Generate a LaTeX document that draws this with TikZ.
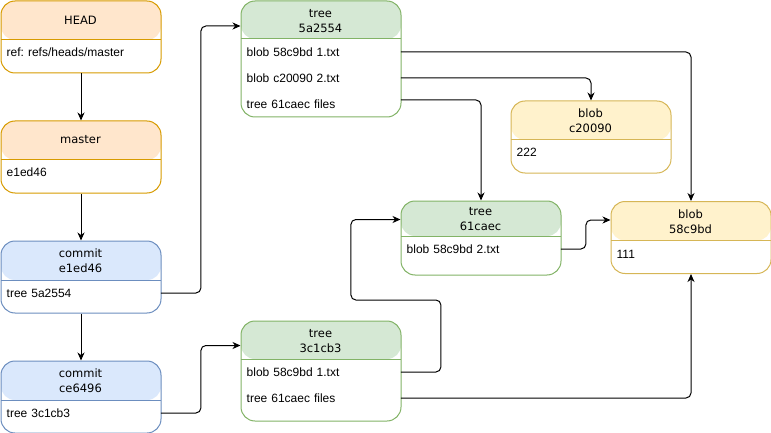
\documentclass[tikz,border=0pt]{standalone}
\usepackage{fontspec}
\setmainfont{Liberation Sans}
\newfontfamily\hdrfont{DejaVu Sans}
\usetikzlibrary{arrows.meta}
\definecolor{reffill}{HTML}{FFE6CC}
\definecolor{refline}{HTML}{D79B00}
\definecolor{cmtfill}{HTML}{DAE8FC}
\definecolor{cmtline}{HTML}{6C8EBF}
\definecolor{treefill}{HTML}{D5E8D4}
\definecolor{treeline}{HTML}{82B366}
\definecolor{blobfill}{HTML}{FFF2CC}
\definecolor{blobline}{HTML}{D6B656}
\frenchspacing
\begin{document}
\begin{tikzpicture}[x=1pt,y=-1pt,
  gitbox/.style n args={4}{draw=#2,line width=1pt,fill=white,rounded corners=14pt,
    anchor=north west,inner sep=0pt,minimum width=160pt,minimum height=#4pt,
    path picture={\fill[#1]([yshift=2pt]path picture bounding box.north west) rectangle ([yshift=-#3pt]path picture bounding box.north east);
      \draw[#2,line width=1pt]([yshift=-#3pt]path picture bounding box.north west) -- ([yshift=-#3pt]path picture bounding box.north east);}},
  hdr/.style={align=center,inner sep=0pt,font=\hdrfont\fontsize{11.5}{15}\selectfont},
  row/.style={anchor=west,inner xsep=6pt,inner ysep=0pt,text width=148pt,align=left,font=\fontsize{12}{14}\selectfont},
  link/.style={line width=1pt,rounded corners=5pt,-{Stealth[length=8pt,width=7pt,inset=2.5pt]}}]
\useasboundingbox (0,0) rectangle (771,433);
% refs and commits
\node[gitbox={reffill}{refline}{39}{72}] (head) at (0.5,0.5) {};
\node[hdr] (headT) at (80.5,20) {HEAD};
\node[row] (headR) at (0.5,52) {ref: refs/heads/master};
\node[gitbox={reffill}{refline}{39}{72}] (master) at (0.5,120.5) {};
\node[hdr] (masterT) at (80.5,140) {master};
\node[row] (masterR) at (0.5,172) {e1ed46};
\node[gitbox={cmtfill}{cmtline}{39}{72}] (cmtA) at (0.5,240.5) {};
\node[hdr] (cmtAT) at (80.5,261) {commit\\e1ed46};
\node[row] (cmtAR) at (0.5,293) {tree 5a2554};
\node[gitbox={cmtfill}{cmtline}{39}{72}] (cmtB) at (0.5,360.5) {};
\node[hdr] (cmtBT) at (80.5,381) {commit\\ce6496};
\node[row] (cmtBR) at (0.5,413) {tree 3c1cb3};
% trees
\node[gitbox={treefill}{treeline}{38}{116}] (treeA) at (240.5,0.5) {};
\node[hdr] (treeAT) at (320.5,21) {tree\\5a2554};
\node[row] (treeAR1) at (240.5,52) {blob 58c9bd 1.txt};
\node[row] (treeAR2) at (240.5,78) {blob c20090 2.txt};
\node[row] (treeAR3) at (240.5,104) {tree 61caec files};
\node[gitbox={treefill}{treeline}{38}{100}] (treeB) at (240.5,320.5) {};
\node[hdr] (treeBT) at (320.5,341) {tree\\3c1cb3};
\node[row] (treeBR1) at (240.5,372) {blob 58c9bd 1.txt};
\node[row] (treeBR2) at (240.5,398) {tree 61caec files};
\node[gitbox={treefill}{treeline}{35}{74}] (treeC) at (400.5,200.5) {};
\node[hdr] (treeCT) at (480.5,219) {tree\\61caec};
\node[row] (treeCR) at (400.5,249) {blob 58c9bd 2.txt};
% blobs
\node[gitbox={blobfill}{blobline}{39}{72}] (blobB) at (510.5,100.5) {};
\node[hdr] (blobBT) at (590.5,121) {blob\\c20090};
\node[row] (blobBR) at (510.5,152) {222};
\node[gitbox={blobfill}{blobline}{39}{72}] (blobA) at (610.5,201) {};
\node[hdr] (blobAT) at (690.5,222) {blob\\58c9bd};
\node[row] (blobAR) at (610.5,254) {111};
% links
\draw[link] (head.south) -- (master.north);
\draw[link] (master.south) -- (cmtA.north);
\draw[link] (cmtA.south) -- (cmtB.north);
\draw[link] (cmtAR.east) -- ++(40,0) |- ([yshift=-25.5pt]treeA.north west);
\draw[link] (cmtBR.east) -- ++(40,0) |- ([yshift=-25pt]treeB.north west);
\draw[link] (treeAR1.east) -| (blobA.north);
\draw[link] (treeAR2.east) -| (blobB.north);
\draw[link] ([yshift=4pt]treeAR3.east) -| (treeC.north);
\draw[link] (treeCR.east) -- ++(25,0) |- ([yshift=-19pt]blobA.north west);
\draw[link] (treeBR1.east) -- ++(40,0) -- ++(0,-72) -- ++(-90,0) |- ([yshift=-19pt]treeC.north west);
\draw[link] (treeBR2.east) -| (blobA.south);
\end{tikzpicture}
\end{document}
